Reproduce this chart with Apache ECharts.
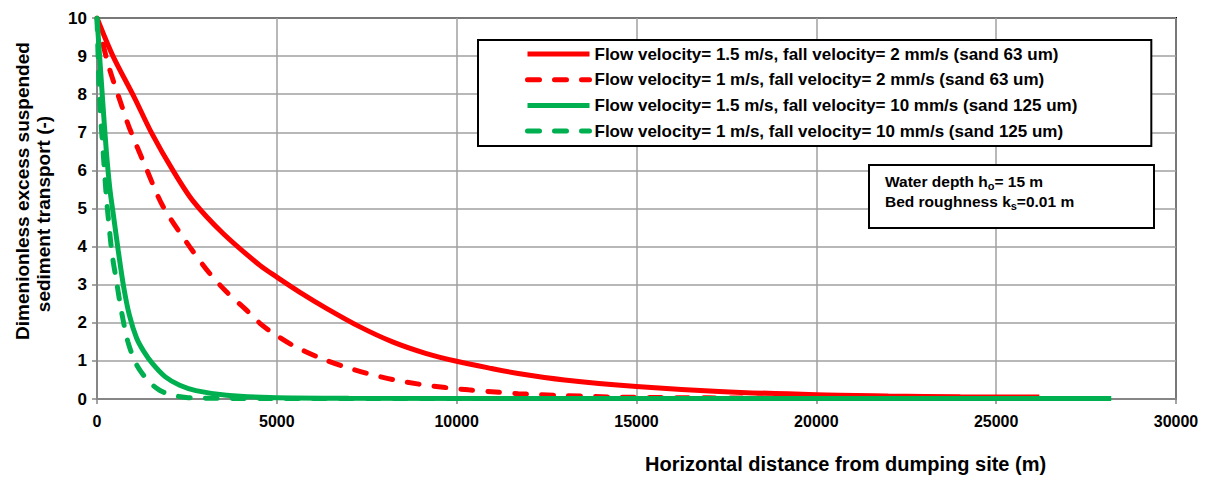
<!DOCTYPE html>
<html>
<head>
<meta charset="utf-8">
<script src="https://cdn.jsdelivr.net/npm/echarts@6/dist/echarts.min.js"></script>
<style>
html,body{margin:0;padding:0;background:#fff;}
#chart{width:1215px;height:477px;}
</style>
</head>
<body>
<div id="chart"></div>
<script>
// ---- Data ----
const seriesNames = [
  'Flow velocity= 1.5 m/s, fall velocity= 2 mm/s (sand 63 um)',
  'Flow velocity= 1 m/s, fall velocity= 2 mm/s (sand 63 um)',
  'Flow velocity= 1.5 m/s, fall velocity= 10 mm/s (sand 125 um)',
  'Flow velocity= 1 m/s, fall velocity= 10 mm/s (sand 125 um)'
];
const redSolidX = [0, 444, 1046, 1509, 2111, 2667, 3500, 4540, 5000, 5643, 6379, 7298, 8217, 9136, 10000, 10974, 11710, 13000, 15000, 17300, 20000, 22000, 24000, 26200];
const redSolidY = [10, 9.0, 7.9, 7.0, 6.0, 5.2, 4.35, 3.5, 3.2, 2.8, 2.38, 1.9, 1.5, 1.2, 0.99, 0.8, 0.67, 0.5, 0.33, 0.2, 0.11, 0.08, 0.06, 0.05];
const redDashX = [0, 305, 722, 907, 1370, 1833, 2574, 3130, 3593, 4148, 4540, 4908, 5460, 6195, 6838, 7482, 8217, 8952, 9688, 10331, 10974, 11710, 13000, 14500, 17000, 20000, 22600];
const redDashY = [10, 8.8, 7.6, 7.1, 6.05, 5.06, 4.0, 3.3, 2.82, 2.34, 1.98, 1.72, 1.4, 1.08, 0.86, 0.68, 0.51, 0.39, 0.3, 0.24, 0.19, 0.14, 0.09, 0.05, 0.03, 0.02, 0.01];
const greenSolidX = [0, 160, 260, 360, 460, 590, 740, 900, 1100, 1300, 1550, 1900, 2300, 2750, 3600, 4800, 7000, 15000, 28200];
const greenSolidY = [10, 7.8, 6.5, 5.5, 4.8, 3.9, 2.95, 2.2, 1.6, 1.25, 0.92, 0.58, 0.36, 0.22, 0.1, 0.04, 0.02, 0.015, 0.01];
const greenDashX = [0, 75, 170, 260, 330, 420, 540, 680, 860, 1100, 1420, 1740, 2110, 2480, 3000, 5000, 20000];
const greenDashY = [10, 7.8, 6.5, 5.3, 4.6, 3.8, 3.1, 2.3, 1.5, 0.9, 0.48, 0.23, 0.1, 0.04, 0.02, 0.01, 0.01];
const xTicks = [0, 5000, 10000, 15000, 20000, 25000, 30000];
const yTicks = [0, 1, 2, 3, 4, 5, 6, 7, 8, 9, 10];
const yTitleLines = ['Dimenionless excess suspended', 'sediment transport (-)'];
const xTitle = 'Horizontal distance from dumping site (m)';

function pairs(xs, ys){ return xs.map((x,i)=>[x, ys[i]]); }

const RED = '#FF0000', GREEN = '#00B050';
const FONT = 'Arial, "Liberation Sans", sans-serif';

const chart = echarts.init(document.getElementById('chart'), null, {renderer:'svg'});

function mk(name, data, color, dashed){
  return {
    name, type:'line', data, showSymbol:false, symbol:'none', smooth:0.3,
    lineStyle:{color, width:5, type: dashed ? [12, 15] : 'solid', cap: dashed ? 'round' : 'butt'},
    itemStyle:{color},
    emphasis:{disabled:true}
  };
}

chart.setOption({
  animation:false,
  backgroundColor:'#fff',
  grid:{left:97, right:39, top:18, bottom:78, show:true, borderColor:'#000', borderWidth:2, backgroundColor:'transparent'},
  legend:{
    show:true, orient:'vertical', left:478, top:40,
    backgroundColor:'#fff', borderColor:'#000', borderWidth:2,
    padding:[5, 74, 6, 47], itemWidth:62, itemHeight:14, itemGap:7.7,
    itemStyle:{opacity:0},
    lineStyle:{width:5},
    textStyle:{fontFamily:FONT, fontWeight:'bold', fontSize:17, color:'#000', lineHeight:18, padding:[0,0,0,0]},
    data: seriesNames.map(n=>({name:n}))
  },
  xAxis:{
    type:'value', min:0, max:30000, interval:5000,
    axisLine:{show:true, lineStyle:{color:'#868686', width:2}},
    axisTick:{show:true, length:5, lineStyle:{color:'#868686', width:1.5}},
    axisLabel:{fontFamily:FONT, fontWeight:'bold', fontSize:16, color:'#000', margin:14,
      formatter:v=>String(v)},
    splitLine:{show:true, lineStyle:{color:'#A0A0A0', width:1.5}}
  },
  yAxis:{
    type:'value', min:0, max:10, interval:1,
    axisLine:{show:true, lineStyle:{color:'#868686', width:2}},
    axisTick:{show:true, length:5, lineStyle:{color:'#868686', width:1.5}},
    axisLabel:{fontFamily:FONT, fontWeight:'bold', fontSize:17, color:'#000', margin:10},
    splitLine:{show:true, lineStyle:{color:'#A0A0A0', width:1.5}}
  },
  graphic:[
    {type:'text', left:645, top:454,
      style:{text:xTitle, font:'bold 20px '+FONT, fill:'#000'}},
    {type:'text', x:22, y:191, rotation:Math.PI/2,
      style:{text:yTitleLines[0], font:'bold 19px '+FONT, fill:'#000', align:'center', verticalAlign:'middle'}},
    {type:'text', x:43, y:214, rotation:Math.PI/2,
      style:{text:yTitleLines[1], font:'bold 19px '+FONT, fill:'#000', align:'center', verticalAlign:'middle'}},
    {type:'rect', left:868, top:164, shape:{width:285, height:63},
      style:{fill:'#fff', stroke:'#000', lineWidth:2}, z:100},
    {type:'text', left:885, top:172, z:101,
      style:{
        text:'{n|Water depth h}{s|o}{n|= 15 m}\n{n|Bed roughness k}{s|s}{n|=0.01 m}',
        rich:{
          n:{font:'bold 15.5px '+FONT, fill:'#000', lineHeight:20},
          s:{font:'bold 11px '+FONT, fill:'#000', lineHeight:20, padding:[8,0,0,0]}
        }
      }}
  ],
  series:[
    mk(seriesNames[0], pairs(redSolidX, redSolidY), RED, false),
    mk(seriesNames[1], pairs(redDashX, redDashY), RED, true),
    mk(seriesNames[2], pairs(greenSolidX, greenSolidY), GREEN, false),
    mk(seriesNames[3], pairs(greenDashX, greenDashY), GREEN, true)
  ]
});
</script>
</body>
</html>
